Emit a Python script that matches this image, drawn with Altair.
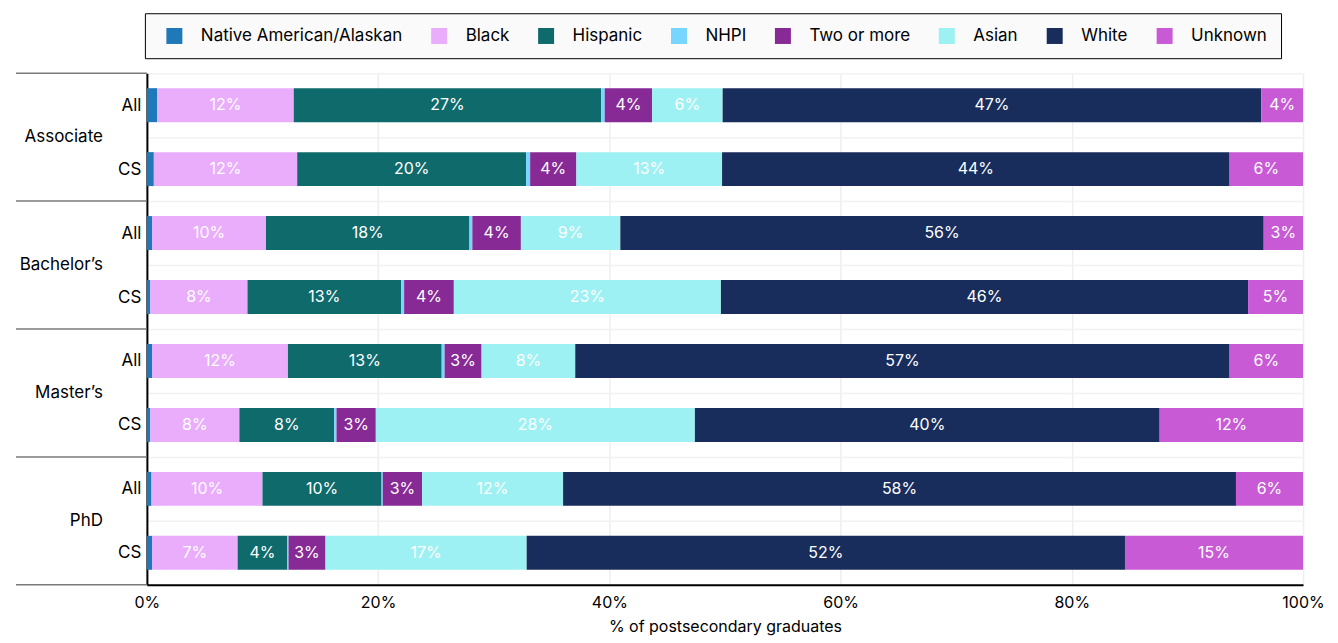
import altair as alt
import pandas as pd

races = ["Native American/Alaskan", "Black", "Hispanic", "NHPI", "Two or more", "Asian", "White", "Unknown"]
colors = ["#1f78b8", "#e9adfb", "#0f6a6c", "#76d6ff", "#872a96", "#9ef1f3", "#182d5c", "#c85ad6"]
degrees = ["Associate", "Bachelor\u2019s", "Master\u2019s", "PhD"]
levels = ["All", "CS"]

assoc_all = [0.9, 11.8, 26.6, 0.3, 4.1, 6.1, 46.6, 3.6]
assoc_cs = [0.6, 12.4, 19.8, 0.35, 4.0, 12.6, 43.9, 6.35]
bach_all = [0.45, 9.85, 17.6, 0.25, 4.2, 8.6, 55.65, 3.4]
bach_cs = [0.3, 8.4, 13.3, 0.25, 4.3, 23.1, 45.6, 4.75]
mast_all = [0.45, 11.75, 13.3, 0.25, 3.2, 8.1, 56.6, 6.35]
mast_cs = [0.3, 7.7, 8.2, 0.2, 3.4, 27.6, 40.2, 12.4]
phd_all = [0.4, 9.6, 10.3, 0.1, 3.4, 12.2, 58.2, 5.8]
phd_cs = [0.45, 7.4, 4.3, 0.1, 3.2, 17.4, 51.75, 15.4]

series = {
    (degrees[0], "All"): assoc_all, (degrees[0], "CS"): assoc_cs,
    (degrees[1], "All"): bach_all, (degrees[1], "CS"): bach_cs,
    (degrees[2], "All"): mast_all, (degrees[2], "CS"): mast_cs,
    (degrees[3], "All"): phd_all, (degrees[3], "CS"): phd_cs,
}

row_order = [f"{d}|{l}" for d in degrees for l in levels]

records = []
for d in degrees:
    for l in levels:
        for i, r in enumerate(races):
            records.append({"row": f"{d}|{l}", "race": r, "order": i, "value": series[(d, l)][i]})
df = pd.DataFrame(records)

groups_df = pd.DataFrame({"degree": degrees, "row": [f"{d}|All" for d in degrees]})
last_df = pd.DataFrame({"row": [row_order[-1]]})

FONT = "Inter"

y_enc_axis = alt.Y(
    "row:N", sort=row_order,
    scale=alt.Scale(paddingInner=0, paddingOuter=0),
    axis=alt.Axis(title=None, labelExpr="split(datum.label, '|')[1]", ticks=False,
                  domainColor="black", domainWidth=2, labelFontSize=17, labelColor="black",
                  labelPadding=6, grid=True, gridColor="#f2f2f2", gridWidth=1.5, tickBand="extent"),
)

stacked = alt.Chart(df).transform_stack(
    stack="value", as_=["x0", "x1"], groupby=["row"], sort=[alt.SortField("order")]
).transform_calculate(
    mid="(datum.x0 + datum.x1) / 2",
    label="round(datum.value) + '%'",
)

bars = stacked.mark_bar(size=34).encode(
    y=y_enc_axis,
    x=alt.X("x0:Q", scale=alt.Scale(domain=[0, 100], nice=False),
            axis=alt.Axis(values=[0, 20, 40, 60, 80, 100], labelExpr="datum.value + '%'",
                          title="% of postsecondary graduates", titleFontSize=16, titleFontWeight="normal",
                          titleColor="black", titlePadding=8, labelFontSize=16, labelColor="black",
                          labelPadding=10, labelFlush=False, ticks=False, domainColor="black", domainWidth=2,
                          grid=True, gridColor="#efefef", gridWidth=1.5)),
    x2="x1:Q",
    color=alt.Color("race:N", scale=alt.Scale(domain=races, range=colors),
                    legend=alt.Legend(title=None, orient="none", legendX=-2, legendY=-60,
                                      direction="horizontal", columns=8, symbolType="square",
                                      symbolSize=256, symbolStrokeWidth=0, labelFontSize=17,
                                      labelColor="black", labelOffset=18, columnPadding=21,
                                      labelLimit=400, padding=14, strokeColor="black",
                                      fillColor="#fafafa", symbolOffset=7)),
    order=alt.Order("order:Q"),
)

texts = stacked.transform_filter(
    "datum.value >= 2"
).mark_text(color="white", fontSize=16, font=FONT).encode(
    y=alt.Y("row:N", sort=row_order),
    x=alt.X("mid:Q"),
    text="label:N",
)

group_labels = alt.Chart(groups_df).mark_text(align="right", fontSize=17, color="black", font=FONT).encode(
    y=alt.Y("row:N", sort=row_order, bandPosition=1),
    x=alt.value(-44),
    text="degree:N",
)

sep_rules = alt.Chart(groups_df).mark_rule(color="#7a7a7a", strokeWidth=1.5).encode(
    y=alt.Y("row:N", sort=row_order, bandPosition=0),
    x=alt.value(-131),
    x2=alt.value(0),
)

bottom_rule = alt.Chart(last_df).mark_rule(color="#7a7a7a", strokeWidth=1.5).encode(
    y=alt.Y("row:N", sort=row_order, bandPosition=1),
    x=alt.value(-131),
    x2=alt.value(0),
)

chart = alt.layer(bars, texts, group_labels, sep_rules, bottom_rule).properties(
    width=1157, height=512,
    padding={"left": 7, "top": 4, "right": 5, "bottom": 5},
).configure(font=FONT).configure_view(stroke=None)

chart.save("out.html", embed_options={"renderer": "svg", "actions": False})
